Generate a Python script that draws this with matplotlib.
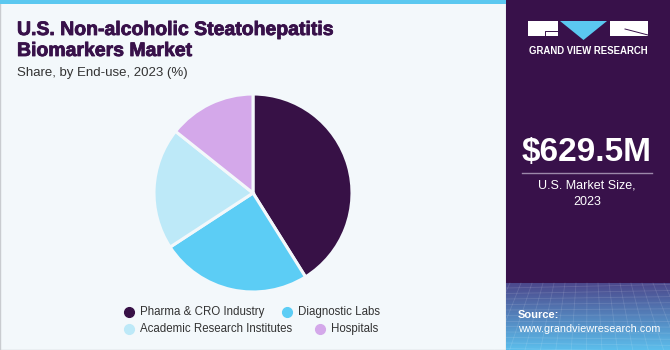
import numpy as np
import matplotlib.pyplot as plt
import matplotlib.patheffects as pe
from matplotlib.patches import Rectangle, Polygon

plt.rcParams['font.family'] = ['Liberation Sans', 'DejaVu Sans']

# data
labels = ["Pharma & CRO Industry", "Diagnostic Labs",
          "Academic Research Institutes", "Hospitals"]
shares = [41.1, 24.7, 19.9, 14.3]
colors = ["#371146", "#5ccdf5", "#bde9f8", "#d4a8ea"]
market_size = "$629.5M"

W, H = 670, 350
fig = plt.figure(figsize=(W / 100, H / 100), dpi=100)
fig.patch.set_facecolor("#f3f8fb")

# background panels, pixel coordinates
bg = fig.add_axes([0, 0, 1, 1])
bg.axis("off")
bg.add_patch(Rectangle((0, 0), 506, 350, fc="#f3f8fb", ec="#c9ccd0", lw=1))
bg.add_patch(Rectangle((0, 0), 506, 4, fc="#5bc8f0", ec="none"))
bg.add_patch(Rectangle((506, 0), 164, 350, fc="#38114a", ec="none"))
# gradient at the bottom of the side panel
grad = np.linspace(0, 1, 100).reshape(-1, 1)
top_c = np.array([0x4c, 0x48, 0x8c]) / 255
bot_c = np.array([0x5c, 0xbe, 0xec]) / 255
img = top_c + grad[..., None] * (bot_c - top_c)
img = np.repeat(img, 2, axis=1)
bg.imshow(img, extent=(506, 670, 350, 283), aspect="auto", zorder=1)
# faint grid texture
for i in range(12):
    yy = 288 + i * 5.5
    bg.plot([506, 670], [yy, yy + (i - 6) * 0.6], color="white", alpha=0.12, lw=0.6, zorder=2)
for j in range(16):
    xx = 510 + j * 11
    bg.plot([xx, 588 + (xx - 588) * 1.4], [283, 350], color="white", alpha=0.12, lw=0.6, zorder=2)
bg.set_xlim(0, W)
bg.set_ylim(H, 0)

# logo
bg.add_patch(Rectangle((528, 21), 30, 15, fc="white", ec="none", zorder=3))
bg.add_patch(Polygon([(560, 21), (607, 21), (583.5, 40)], fc="#5bc8f0", ec="none", zorder=3))
bg.add_patch(Rectangle((610, 21), 38, 15, fc="white", ec="none", zorder=3))
bg.plot([545, 545, 558], [36, 31, 31], color="#38114a", lw=0.7, zorder=4)
bg.plot([625, 648], [29, 35], color="#38114a", lw=0.7, zorder=4)
bg.text(588, 51, "GRAND VIEW RESEARCH", color="white", fontsize=6.9,
        fontweight="bold", ha="center", va="center", zorder=4)

# market size
bg.text(587, 153, market_size, color="white", fontsize=24, fontweight="bold",
        ha="center", va="center", zorder=4)
bg.plot([522, 652], [173, 173], color="#9c88aa", lw=1, zorder=4)
bg.text(587, 186, "U.S. Market Size,", color="white", fontsize=9,
        ha="center", va="center", zorder=4)
bg.text(587, 202, "2023", color="white", fontsize=9,
        ha="center", va="center", zorder=4)
bg.text(518, 315, "Source:", color="white", fontsize=8, fontweight="bold",
        ha="left", va="center", zorder=4)
bg.text(518, 329, "www.grandviewresearch.com", color="white", fontsize=7.8,
        ha="left", va="center", zorder=4)

# titles
heavy = [pe.withStroke(linewidth=0.6, foreground="#38114a")]
bg.text(17, 35, "U.S. Non-alcoholic Steatohepatitis", color="#38114a",
        fontsize=14, fontweight="bold", ha="left", va="baseline", path_effects=heavy)
bg.text(17, 56, "Biomarkers Market", color="#38114a",
        fontsize=14, fontweight="bold", ha="left", va="baseline", path_effects=heavy)
bg.text(17, 76, "Share, by End-use, 2023 (%)", color="#333333",
        fontsize=9.5, ha="left", va="baseline")

# pie
cx, cy, r = 253, 193, 99
ax = fig.add_axes([(cx - r) / W, (H - cy - r) / H, 2 * r / W, 2 * r / H])
ax.pie(shares, colors=colors, startangle=90, counterclock=False,
       wedgeprops=dict(edgecolor="#f3f8fb", linewidth=2.2))
ax.set_xlim(-1, 1)
ax.set_ylim(-1, 1)
ax.set_aspect("equal")
ax.axis("off")

# legend, two rows laid out left to right
leg_pos = [(129, 312), (287, 312), (129, 329), (320, 329)]
for (lx, ly), lab, c in zip(leg_pos, labels, colors):
    bg.plot(lx, ly, "o", color=c, ms=7, zorder=4)
    bg.text(lx + 11, ly, lab, color="#333333", fontsize=8.3,
            ha="left", va="center", zorder=4)

fig.savefig("out.png", dpi=100, facecolor=fig.get_facecolor())
